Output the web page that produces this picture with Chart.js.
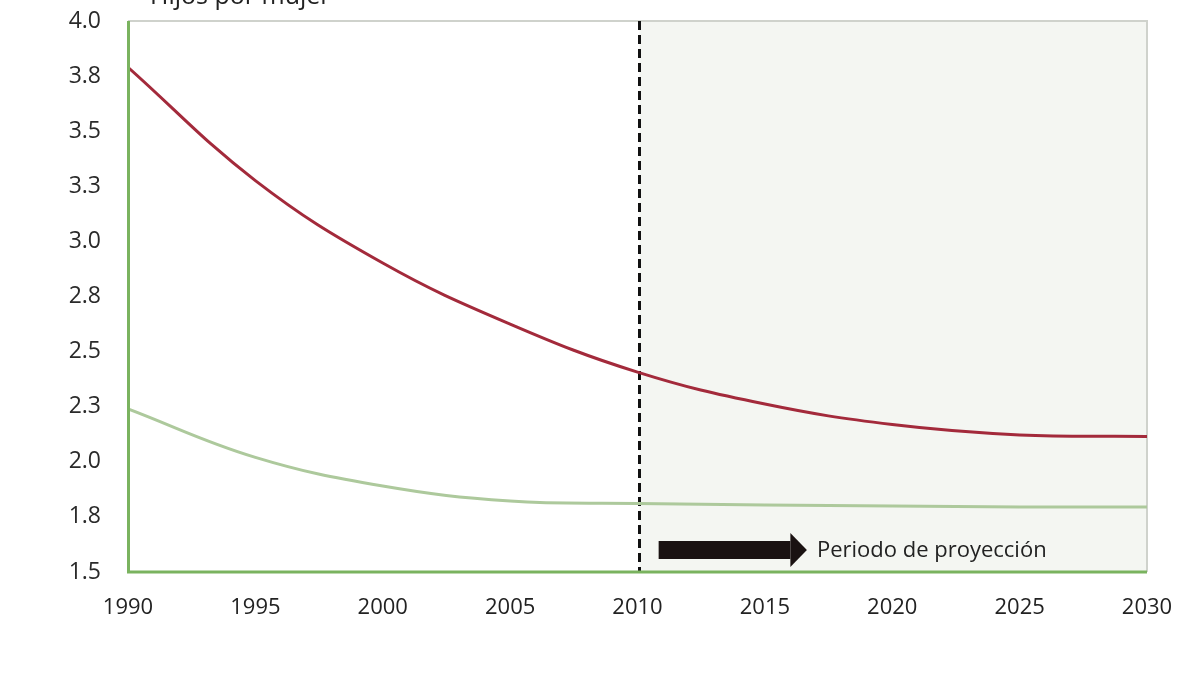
<!DOCTYPE html>
<html>
<head>
<meta charset="utf-8">
<script src="https://cdn.jsdelivr.net/npm/chart.js@4.4.1/dist/chart.umd.min.js"></script>
<style>
  html, body { margin: 0; padding: 0; background: #ffffff; }
  #wrap { width: 1200px; height: 674px; }
</style>
</head>
<body>
<div id="wrap"><canvas id="c" width="1200" height="674"></canvas></div>
<script>
// ---- Data ----
const years = [1990, 1995, 2000, 2005, 2010, 2015, 2020, 2025, 2030];
const seriesRed = [3.79, 3.276, 2.902, 2.625, 2.407, 2.262, 2.169, 2.122, 2.115];
const seriesGreen = [2.24, 2.02, 1.89, 1.822, 1.811, 1.804, 1.80, 1.795, 1.795];
const xTickLabels = ['1990', '1995', '2000', '2005', '2010', '2015', '2020', '2025', '2030'];
const yTickLabels = ['1.5', '1.8', '2.0', '2.3', '2.5', '2.8', '3.0', '3.3', '3.5', '3.8', '4.0'];
const yAxisTitle = 'Hijos por mujer';
const projectionStart = 2010;
const projectionLabel = 'Periodo de proyección';

const toPoints = (arr) => years.map((y, i) => ({ x: y, y: arr[i] }));

const decorPlugin = {
  id: 'decor',
  beforeDatasetsDraw(chart) {
    const { ctx, chartArea: a, scales: { x } } = chart;
    ctx.save();
    const xs = x.getPixelForValue(projectionStart) + 2;
    ctx.fillStyle = '#f4f6f2';
    ctx.fillRect(xs, a.top, a.right - xs, a.bottom - a.top);
    ctx.strokeStyle = '#cfd2cc';
    ctx.lineWidth = 2;
    ctx.beginPath();
    ctx.moveTo(a.left, a.top);
    ctx.lineTo(a.right, a.top);
    ctx.lineTo(a.right, a.bottom);
    ctx.stroke();
    ctx.strokeStyle = '#111111';
    ctx.lineWidth = 3;
    ctx.setLineDash([9, 5]);
    ctx.beginPath();
    ctx.moveTo(xs, a.top);
    ctx.lineTo(xs, a.bottom);
    ctx.stroke();
    ctx.setLineDash([]);
    ctx.restore();
  },
  afterDraw(chart) {
    const { ctx, chartArea: a, scales: { x, y } } = chart;
    ctx.save();
    ctx.strokeStyle = '#7ab35f';
    ctx.lineWidth = 3;
    ctx.beginPath();
    ctx.moveTo(a.left + 0.5, a.top);
    ctx.lineTo(a.left + 0.5, a.bottom);
    ctx.lineTo(a.right, a.bottom);
    ctx.stroke();
    // arrow
    const ay = y.getPixelForValue(1.5) - 22;
    const x0 = x.getPixelForValue(2010.83);
    const x1 = x.getPixelForValue(2016.0);
    const x2 = x.getPixelForValue(2016.65);
    ctx.fillStyle = '#1a1212';
    ctx.fillRect(x0, ay - 9, x1 - x0, 18);
    ctx.beginPath();
    ctx.moveTo(x1, ay - 17);
    ctx.lineTo(x2, ay);
    ctx.lineTo(x1, ay + 17);
    ctx.closePath();
    ctx.fill();
    ctx.fillStyle = '#222222';
    ctx.font = '22px "Open Sans", sans-serif';
    ctx.textBaseline = 'middle';
    ctx.textAlign = 'left';
    ctx.fillText(projectionLabel, x2 + 10, ay + 1);
    // axis title (partly cut by top edge)
    ctx.font = '25px "Open Sans", sans-serif';
    ctx.textBaseline = 'alphabetic';
    ctx.fillStyle = '#222222';
    ctx.fillText(yAxisTitle, 150, 4);
    ctx.restore();
  }
};

new Chart(document.getElementById('c'), {
  type: 'line',
  data: {
    datasets: [
      {
        label: 'Serie roja',
        data: toPoints(seriesRed),
        borderColor: '#a32a3b',
        borderWidth: 3,
        pointRadius: 0,
        tension: 0.4,
        fill: false
      },
      {
        label: 'Serie verde',
        data: toPoints(seriesGreen),
        borderColor: '#adc99c',
        borderWidth: 3,
        pointRadius: 0,
        tension: 0.4,
        fill: false
      }
    ]
  },
  options: {
    responsive: false,
    animation: false,
    layout: { padding: { top: 21, right: 53, left: 0, bottom: 0 } },
    plugins: { legend: { display: false }, tooltip: { enabled: false } },
    scales: {
      x: {
        type: 'linear',
        min: 1990,
        max: 2030,
        border: { display: false },
        grid: { display: false, drawTicks: false },
        ticks: {
          stepSize: 5,
          padding: 23,
          color: '#222222',
          font: { family: '"Open Sans", sans-serif', size: 22 },
          maxRotation: 0,
          callback: (v, i) => xTickLabels[i]
        },
        afterFit: (s) => { s.height = 102; s.paddingLeft = 0; s.paddingRight = 0; }
      },
      y: {
        min: 1.5,
        max: 4.0,
        border: { display: false },
        grid: { display: false, drawTicks: false },
        ticks: {
          stepSize: 0.25,
          padding: 27,
          color: '#2a2a2a',
          font: { family: '"Open Sans", sans-serif', size: 23 },
          callback: (v, i) => yTickLabels[i]
        },
        afterFit: (s) => { s.width = 128; s.paddingTop = 0; s.paddingBottom = 0; }
      }
    }
  },
  plugins: [decorPlugin]
});
</script>
</body>
</html>
